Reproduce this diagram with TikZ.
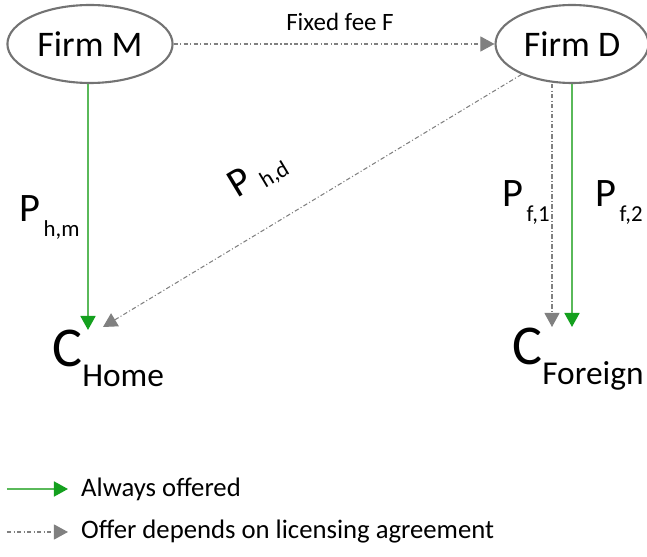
\documentclass[tikz,border=0pt]{standalone}
\usepackage{fontspec}
\setmainfont{Carlito}
\usetikzlibrary{shapes,arrows.meta,positioning}
\definecolor{offergreen}{RGB}{20,160,30}
\definecolor{linegreen}{RGB}{90,185,90}
\definecolor{dealgray}{RGB}{128,128,128}
\newcommand{\pp}[3][-8.5pt]{{\fontsize{23}{23}\selectfont #2}\hspace{2pt}\raisebox{#1}{\fontsize{13}{13}\selectfont #3}}
\newcommand{\cc}[2]{{\fontsize{32}{32}\selectfont #1}\raisebox{-11pt}{\fontsize{19}{19}\selectfont #2}}

\begin{document}
\begin{tikzpicture}[x=0.02cm,y=-0.02cm,
  firm/.style={ellipse,draw=black!55,line width=1.2pt,minimum width=3.04cm,minimum height=1.56cm,font=\fontsize{20.5}{20.5}\selectfont},
  always/.style={draw=linegreen,line width=1pt,-{Triangle[length=0.28cm,width=0.3cm,color=offergreen]}},
  deal/.style={draw=dealgray,line width=0.6pt,dash pattern=on 2.5pt off 1.3pt on 0.6pt off 1.3pt,-{Triangle[length=0.28cm,width=0.3cm,color=dealgray]}},
  lbl/.style={anchor=base west,inner sep=0},
  legend/.style={anchor=west,font=\fontsize{15.2}{15.2}\selectfont}]
\useasboundingbox (0,0) rectangle (647,557);

\node[firm](m) at (90,44) {Firm M};
\node[firm](d) at (572,44) {Firm D};
\node[lbl](ch) at (52,367) {\cc{C}{Home}};
\node[lbl](cf) at (512,365) {\cc{C}{Foreign}};

\coordinate (hm) at (88,330);
\coordinate (hd) at (103,327);
\coordinate (f1) at (552,327);
\coordinate (f2) at (572,327);

\draw[deal] (m) -- (d);
\draw[always] (m.south -| hm) -- (hm);
\draw[deal] (d) -- (hd);
\draw[deal] (d.south -| f1) -- (f1);
\draw[always] (d.south) -- (f2);

\node[font=\fontsize{14.2}{14.2}\selectfont](fee) at (340,22) {Fixed fee F};
\node[lbl](phm) at (19,222) {\pp{P}{h,m}};
\node[rotate=31,inner sep=1pt](phd) at (258,176) {\pp[-3pt]{P}{\hspace{3pt}h,d}};
\node[lbl](pf1) at (502,207) {\pp{P}{f,1}};
\node[lbl](pf2) at (595,207) {\pp{P}{f,2}};

% legend
\coordinate (la) at (7,489);
\coordinate (lb) at (7,532);
\node[legend](lA) at (75,489) {Always offered};
\node[legend](lB) at (75,532) {Offer depends on licensing agreement};
\draw[always,shorten >=4pt] (la) -- (lA.west);
\draw[deal,shorten >=4pt] (lb) -- (lB.west);

\end{tikzpicture}
\end{document}
